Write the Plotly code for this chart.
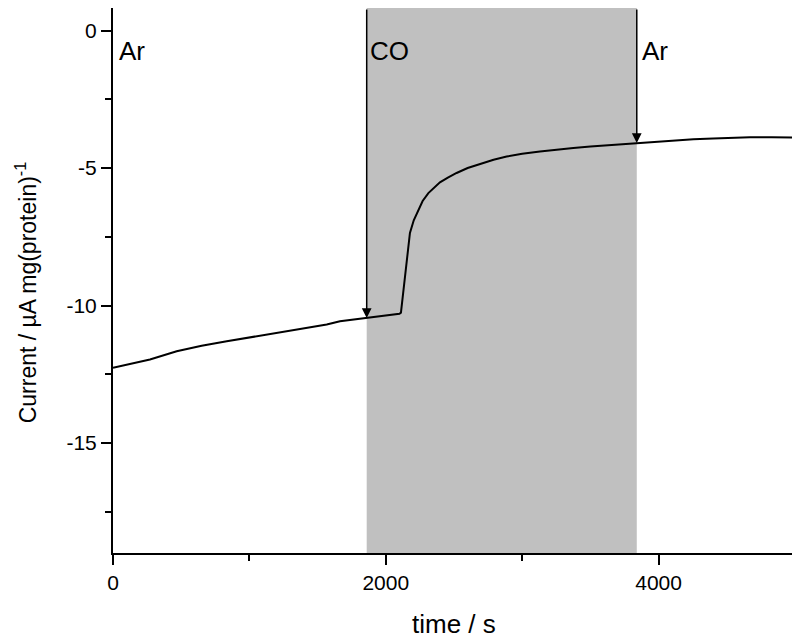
import plotly.graph_objects as go

# time (s) and current (µA mg(protein)^-1)
time_s = [0, 130, 271, 467, 650, 834, 1020, 1200, 1380, 1567, 1664, 1760, 1860, 1980, 2100,
          2111, 2125, 2141, 2160, 2177, 2205, 2239, 2270, 2312, 2350, 2397, 2455, 2519,
          2600, 2691, 2790, 2886, 3000, 3130, 3250, 3375, 3500, 3620, 3740, 3864,
          4000, 4150, 4255, 4400, 4530, 4670, 4830, 5000]
current = [-12.26, -12.12, -11.96, -11.66, -11.46, -11.30, -11.14, -10.99, -10.84, -10.69,
           -10.57, -10.51, -10.45, -10.37, -10.30,
           -10.26, -9.60, -8.81, -8.00, -7.36, -6.90, -6.52, -6.20, -5.91, -5.72, -5.52,
           -5.35, -5.18, -5.00, -4.85, -4.70, -4.58, -4.48, -4.40, -4.33, -4.27, -4.22,
           -4.18, -4.13, -4.09, -4.04, -3.99, -3.95, -3.93, -3.90, -3.88, -3.88, -3.89]

co_start, co_end = 1860, 3840
arrow_tip_y = [-10.45, -4.09]
gas_labels = ["Ar", "CO", "Ar"]
gas_label_x = [30, 1870, 3860]

x_ticks = [0, 2000, 4000]
y_ticks = [0, -5, -10, -15]
y_top = 0.82

FONT = "Liberation Sans, Arial"

fig = go.Figure()
fig.add_vrect(x0=co_start, x1=co_end, fillcolor="#c0c0c0", opacity=1, line_width=0, layer="below")
fig.add_trace(go.Scatter(x=time_s, y=current, mode="lines",
                         line=dict(color="black", width=2), showlegend=False))

for xa, ty in zip([co_start, co_end], arrow_tip_y):
    fig.add_annotation(x=xa, y=ty, ax=xa, ay=y_top, xref="x", yref="y", axref="x", ayref="y",
                       showarrow=True, arrowhead=2, arrowsize=1.3, arrowwidth=1.5,
                       arrowcolor="black", text="")

for lab, lx in zip(gas_labels, gas_label_x):
    fig.add_annotation(x=lx, y=-0.75, xref="x", yref="y", text=lab, showarrow=False,
                       xanchor="left", yanchor="middle",
                       font=dict(family=FONT, size=26, color="black"))

axis_common = dict(showline=True, linecolor="black", linewidth=2, mirror=True,
                   ticks="outside", ticklen=10, tickwidth=2, tickcolor="black",
                   showgrid=False, zeroline=False, automargin=False,
                   tickfont=dict(family=FONT, size=21, color="black"))

fig.update_xaxes(range=[0, 5000], tickvals=x_ticks, ticktext=[str(v) for v in x_ticks],
                 minor=dict(ticks="outside", ticklen=6, tickwidth=2, tickcolor="black", dtick=1000, tick0=0),
                 **axis_common)
fig.update_yaxes(range=[-19, y_top], tickvals=y_ticks, ticktext=[str(v) for v in y_ticks],
                 minor=dict(ticks="outside", ticklen=6, tickwidth=2, tickcolor="black", dtick=2.5, tick0=0),
                 **axis_common)

# axis titles placed as paper annotations for exact positioning
fig.add_annotation(x=0.5, y=-0.130, xref="paper", yref="paper", text="time / s",
                   showarrow=False, xanchor="center", yanchor="middle",
                   font=dict(family=FONT, size=26, color="black"))
fig.add_annotation(x=-0.127, y=0.479, xref="paper", yref="paper",
                   text="Current / µA mg(protein)<sup>-1</sup>", textangle=-90,
                   showarrow=False, xanchor="center", yanchor="middle",
                   font=dict(family=FONT, size=23, color="black"))

fig.update_layout(width=792, height=630, margin=dict(l=105, r=5, t=0, b=85, autoexpand=False),
                  plot_bgcolor="white", paper_bgcolor="white")
fig.write_html("out.html")
